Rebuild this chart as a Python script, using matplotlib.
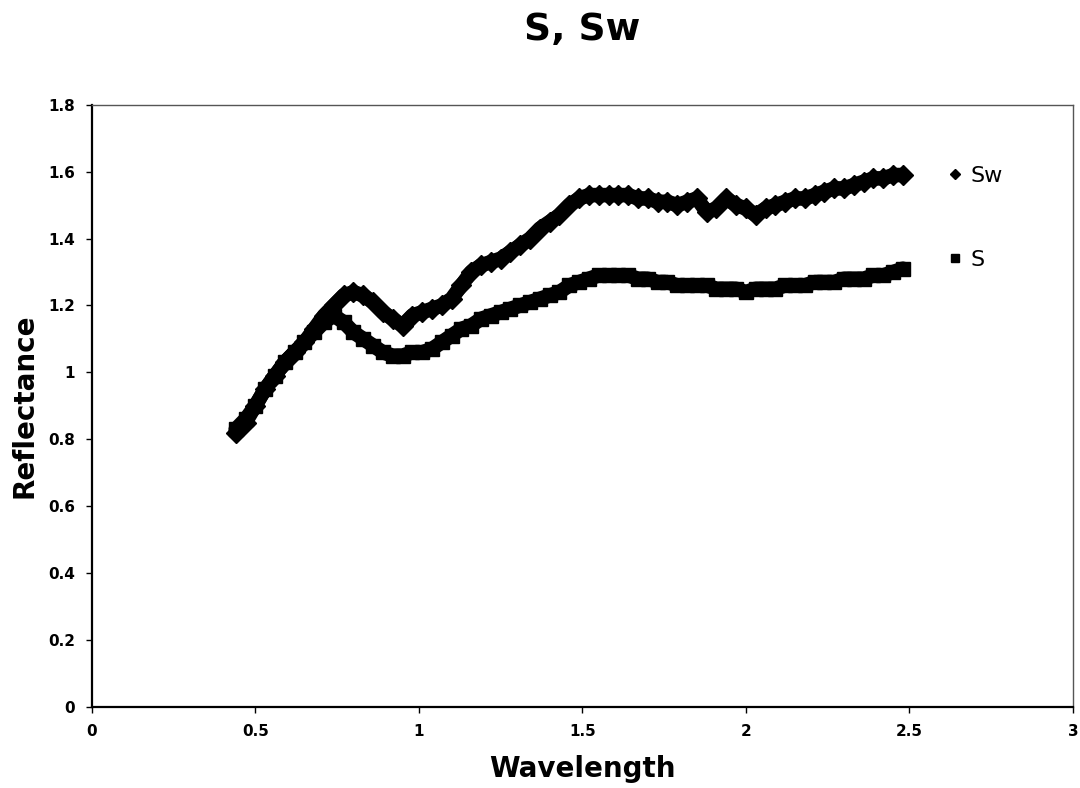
import matplotlib.pyplot as plt

# Wellenlaenge (x) und Reflexion der beiden Proben
wavelength = [0.44, 0.47, 0.50, 0.53, 0.56, 0.59, 0.62, 0.65, 0.68, 0.71,
              0.74, 0.77, 0.80, 0.83, 0.86, 0.89, 0.92, 0.95, 0.98, 1.01,
              1.04, 1.07, 1.10, 1.13, 1.16, 1.19, 1.22, 1.25, 1.28, 1.31,
              1.34, 1.37, 1.40, 1.43, 1.46, 1.49, 1.52, 1.55, 1.58, 1.61,
              1.64, 1.67, 1.70, 1.73, 1.76, 1.79, 1.82, 1.85, 1.88, 1.91,
              1.94, 1.97, 2.00, 2.03, 2.06, 2.09, 2.12, 2.15, 2.18, 2.21,
              2.24, 2.27, 2.30, 2.33, 2.36, 2.39, 2.42, 2.45, 2.48]

sw = [0.82, 0.85, 0.90, 0.95, 0.99, 1.03, 1.06, 1.09, 1.13, 1.17,
      1.20, 1.23, 1.24, 1.23, 1.21, 1.18, 1.16, 1.14, 1.17, 1.18,
      1.19, 1.20, 1.22, 1.26, 1.30, 1.32, 1.33, 1.34, 1.36, 1.38,
      1.40, 1.43, 1.45, 1.47, 1.50, 1.52, 1.53, 1.53, 1.53, 1.53,
      1.53, 1.52, 1.52, 1.51, 1.51, 1.50, 1.51, 1.52, 1.48, 1.49,
      1.52, 1.50, 1.49, 1.47, 1.49, 1.50, 1.51, 1.52, 1.52, 1.53,
      1.54, 1.55, 1.55, 1.56, 1.57, 1.58, 1.58, 1.59, 1.59]

s = [0.83, 0.86, 0.90, 0.95, 0.99, 1.03, 1.06, 1.09, 1.12, 1.15,
     1.17, 1.15, 1.12, 1.10, 1.08, 1.06, 1.05, 1.05, 1.06, 1.06,
     1.07, 1.09, 1.11, 1.13, 1.14, 1.16, 1.17, 1.18, 1.19, 1.20,
     1.21, 1.22, 1.23, 1.24, 1.26, 1.27, 1.28, 1.29, 1.29, 1.29,
     1.29, 1.28, 1.28, 1.27, 1.27, 1.26, 1.26, 1.26, 1.26, 1.25,
     1.25, 1.25, 1.24, 1.25, 1.25, 1.25, 1.26, 1.26, 1.26, 1.27,
     1.27, 1.27, 1.28, 1.28, 1.28, 1.29, 1.29, 1.30, 1.31]

x_ticks = [0, 0.5, 1, 1.5, 2, 2.5, 3]
x_labels = ['0', '0.5', '1', '1.5', '2', '2.5', '3']
y_ticks = [0, 0.2, 0.4, 0.6, 0.8, 1, 1.2, 1.4, 1.6, 1.8]
y_labels = ['0', '0.2', '0.4', '0.6', '0.8', '1', '1.2', '1.4', '1.6', '1.8']

fig = plt.figure(figsize=(10.8, 7.88), dpi=100)
ax = fig.add_axes([0.085, 0.103, 0.9085, 0.764])

ax.plot(wavelength, sw, linestyle='-', linewidth=10.5, color='black',
        marker='D', markersize=10, label='Sw', solid_capstyle='round')
ax.plot(wavelength, s, linestyle='-', linewidth=10.5, color='black',
        marker='s', markersize=10, label='S', solid_capstyle='round')

ax.set_xlim(0, 3)
ax.set_ylim(0, 1.8)
ax.set_xticks(x_ticks)
ax.set_xticklabels(x_labels, fontweight='bold', fontsize=11)
ax.set_yticks(y_ticks)
ax.set_yticklabels(y_labels, fontweight='bold', fontsize=11)
ax.tick_params(direction='out', length=4, width=1, pad=8)

for side in ['left', 'bottom']:
    ax.spines[side].set_linewidth(1.6)
for side in ['top', 'right']:
    ax.spines[side].set_linewidth(1.0)
    ax.spines[side].set_color('#555555')

ax.set_title('S, Sw', fontsize=27, fontweight='bold', pad=47)
ax.set_xlabel('Wavelength', fontsize=20, fontweight='bold', labelpad=12)
ax.set_ylabel('Reflectance', fontsize=20, fontweight='bold', labelpad=7)

# Legende mit kleinen Markern
handles = [plt.Line2D([], [], linestyle='', marker='D', markersize=5, color='black'),
           plt.Line2D([], [], linestyle='', marker='s', markersize=6, color='black')]
ax.legend(handles, ['Sw', 'S'], loc='upper left', bbox_to_anchor=(0.853, 0.932),
          frameon=False, fontsize=16, labelspacing=2.9, handlelength=0.6,
          handletextpad=0.4)

plt.savefig('out.png', dpi=100)
